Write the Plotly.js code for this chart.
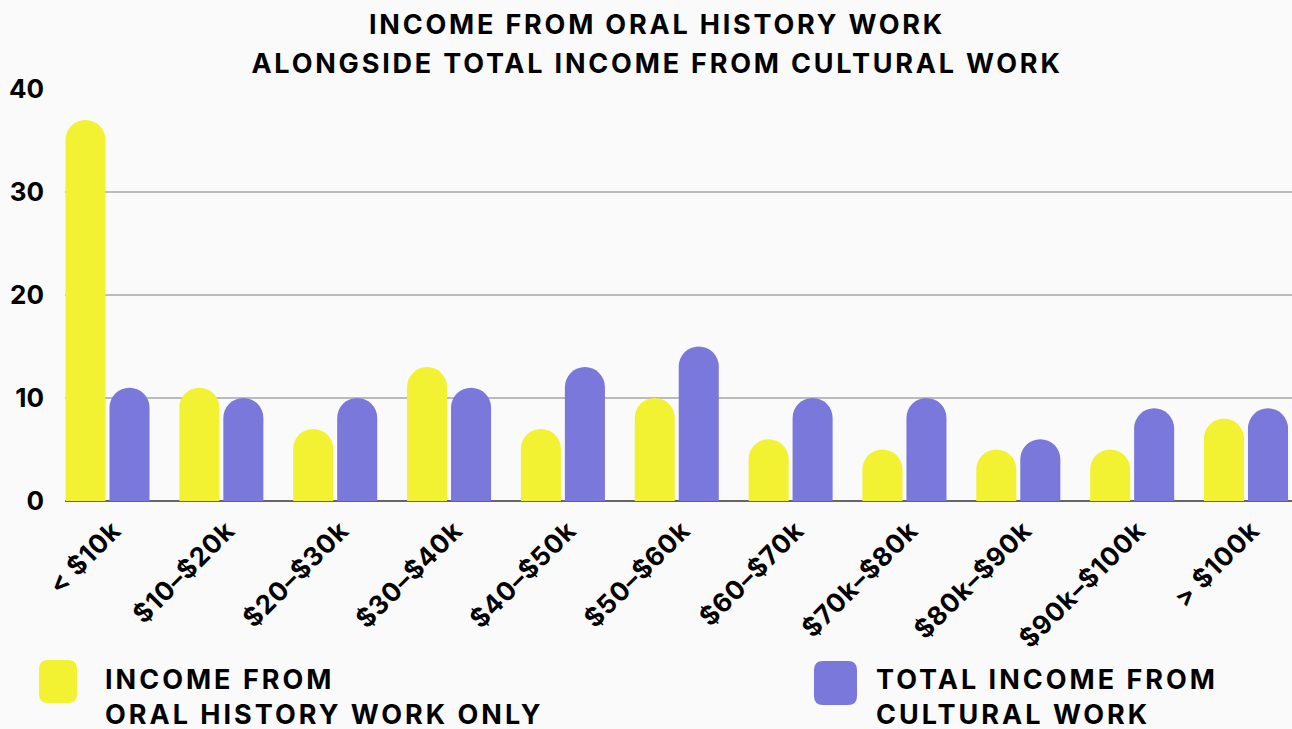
<!DOCTYPE html>
<html>
<head>
<meta charset="utf-8">
<script src="https://cdn.plot.ly/plotly-3.0.1.min.js"></script>
<style>
  html, body { margin: 0; padding: 0; background: #fafafa; }
  #chart { width: 1292px; height: 729px; }
  .gtitle { letter-spacing: 2.8px; }
  .annotation-text { letter-spacing: 3px; }
  .xtick text { letter-spacing: 0.8px; }
</style>
</head>
<body>
<div id="chart"></div>
<script>
const categories = ["< $10k", "$10–$20k", "$20–$30k", "$30–$40k", "$40–$50k", "$50–$60k",
                    "$60–$70k", "$70k–$80k", "$80k–$90k", "$90k–$100k", "> $100k"];
const oralHistoryOnly = [37, 11, 7, 13, 7, 10, 6, 5, 5, 5, 8];
const totalCultural   = [11, 10, 10, 11, 13, 15, 10, 10, 6, 9, 9];
const yTicks = [0, 10, 20, 30, 40];
const seriesNames = ["INCOME FROM<br>ORAL HISTORY WORK ONLY", "TOTAL INCOME FROM<br>CULTURAL WORK"];
const colors = ["#f2f232", "#7b78dc"];

const W = 1292, H = 729;
const M = {l: 65, r: 0, t: 89, b: 228};
const pw = W - M.l - M.r, ph = H - M.t - M.b;
const px = x => (x - M.l) / pw;
const py = y => (H - M.b - y) / ph;

function roundRect(x0, y0, x1, y1, r) {
  const X = v => px(v).toFixed(5), Y = v => py(v).toFixed(5);
  return `M ${X(x0 + r)} ${Y(y0)} L ${X(x1 - r)} ${Y(y0)} Q ${X(x1)} ${Y(y0)} ${X(x1)} ${Y(y0 + r)} ` +
         `L ${X(x1)} ${Y(y1 - r)} Q ${X(x1)} ${Y(y1)} ${X(x1 - r)} ${Y(y1)} L ${X(x0 + r)} ${Y(y1)} ` +
         `Q ${X(x0)} ${Y(y1)} ${X(x0)} ${Y(y1 - r)} L ${X(x0)} ${Y(y0 + r)} Q ${X(x0)} ${Y(y0)} ${X(x0 + r)} ${Y(y0)} Z`;
}

const font = "Inter, 'Liberation Sans', Arial, sans-serif";

const traces = [
  {type: "bar", x: categories, y: oralHistoryOnly, name: "Income from oral history work only",
   marker: {color: colors[0], cornerradius: 20}, hoverinfo: "x+y"},
  {type: "bar", x: categories, y: totalCultural, name: "Total income from cultural work",
   marker: {color: colors[1], cornerradius: 20}, hoverinfo: "x+y"}
];

const layout = {
  width: W, height: H,
  margin: M,
  paper_bgcolor: "#fafafa",
  plot_bgcolor: "#fafafa",
  showlegend: false,
  barmode: "group",
  bargap: 0.227,
  bargroupgap: 0.09,
  font: {family: font, color: "#000"},
  title: {
    text: '<span style="font-size:27px">INCOME FROM ORAL HISTORY WORK</span><br><span style="font-size:27px">ALONGSIDE TOTAL INCOME FROM CULTURAL WORK</span>',
    font: {family: font, size: 30, color: "#000", weight: 700},
    xref: "container", x: 657 / W, xanchor: "center",
    yref: "container", y: 1 - 34 / H, yanchor: "top"
  },
  xaxis: {
    type: "category",
    range: [-0.3733, 10.404],
    tickangle: -45,
    tickfont: {family: font, size: 26, color: "#000", weight: 700},
    showgrid: false,
    showline: false,
    ticks: "",
    ticklabelstandoff: 8,
    ticklabelshift: 6,
    fixedrange: true
  },
  yaxis: {
    range: [0, 40],
    tickvals: yTicks,
    ticktext: yTicks.map(String),
    tickfont: {family: font, size: 26, color: "#000", weight: 700},
    showgrid: true,
    gridcolor: "#bbbbbb",
    gridwidth: 2,
    zeroline: true,
    zerolinecolor: "#666666",
    zerolinewidth: 2,
    showline: false,
    ticks: "",
    ticklabelstandoff: 20,
    fixedrange: true
  },
  shapes: [
    {type: "path", xref: "paper", yref: "paper", path: roundRect(39, 660, 77, 703, 9),
     fillcolor: colors[0], line: {width: 0}},
    {type: "path", xref: "paper", yref: "paper", path: roundRect(814, 661, 857, 705, 9),
     fillcolor: colors[1], line: {width: 0}}
  ],
  annotations: [
    {text: seriesNames[0], xref: "paper", yref: "paper", x: px(103), y: py(697), xanchor: "left", yanchor: "middle",
     align: "left", showarrow: false, font: {family: font, size: 27, color: "#000", weight: 700}},
    {text: seriesNames[1], xref: "paper", yref: "paper", x: px(874), y: py(697), xanchor: "left", yanchor: "middle",
     align: "left", showarrow: false, font: {family: font, size: 27, color: "#000", weight: 700}}
  ]
};

Plotly.newPlot("chart", traces, layout, {displayModeBar: false, staticPlot: true});
</script>
</body>
</html>
